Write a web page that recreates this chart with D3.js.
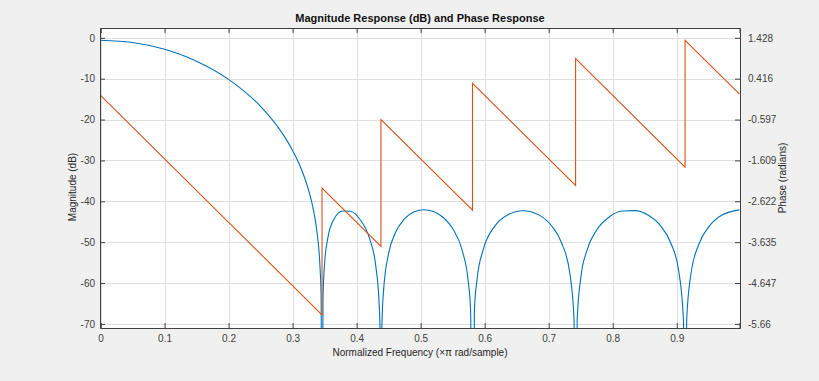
<!DOCTYPE html>
<html>
<head>
<meta charset="utf-8">
<script src="https://cdn.jsdelivr.net/npm/d3@7"></script>
<style>
  body { margin: 0; background: #f0f0f0; }
  svg text { font-family: "Liberation Sans", Arial, Helvetica, sans-serif; }
</style>
</head>
<body>
<div id="chart"></div>
<script>
// values
var magFreq = [0, 0.05, 0.1, 0.15, 0.2, 0.25, 0.28, 0.3, 0.31, 0.32, 0.325, 0.33, 0.335, 0.338, 0.343, 0.3445,
  0.346, 0.3475, 0.35, 0.355, 0.365, 0.378, 0.39, 0.405, 0.42, 0.43, 0.435, 0.4365,
  0.438, 0.4395, 0.442, 0.45, 0.46, 0.475, 0.49, 0.505, 0.52, 0.535, 0.55, 0.565, 0.574, 0.578,
  0.581, 0.584, 0.588, 0.598, 0.615, 0.635, 0.66, 0.685, 0.705, 0.72, 0.733, 0.7395,
  0.742, 0.7445, 0.75, 0.76, 0.775, 0.795, 0.815, 0.835, 0.855, 0.875, 0.89, 0.903, 0.9105,
  0.913, 0.9155, 0.922, 0.935, 0.95, 0.97, 0.998];
var magDb = [-0.6, -1.14, -2.80, -5.71, -10.16, -16.78, -22.47, -27.55, -30.77, -34.78, -37.26, -40.27, -44.20, -47.41, -56.63, -62.65,
  -120, -63.79, -55.27, -49.02, -44.28, -42.36, -42.44, -44.38, -49.03, -55.96, -64.52, -70.54,
  -120, -70.55, -62.03, -52.73, -47.87, -44.26, -42.57, -42.05, -42.48, -43.90, -46.66, -52.06, -59.16, -66.52,
  -120, -66.57, -59.21, -51.69, -46.26, -43.39, -42.32, -43.38, -46.10, -50.14, -57.60, -68.73,
  -120, -68.95, -58.85, -51.89, -47.01, -43.79, -42.39, -42.27, -43.36, -46.06, -49.97, -56.99, -69.03,
  -120, -69.04, -57.91, -50.34, -46.25, -43.43, -42.10];

var phaseFreq = [0, 0.346, 0.346, 0.438, 0.438, 0.581, 0.581, 0.742, 0.742, 0.913, 0.913, 0.998];
var phaseRad = [0, -5.435, -2.293, -3.738, -0.597, -2.843, 0.299, -2.230, 0.912, -1.775, 1.366, 0.031];

var xTicks = [0, 0.1, 0.2, 0.3, 0.4, 0.5, 0.6, 0.7, 0.8, 0.9];
var dbTicks = [0, -10, -20, -30, -40, -50, -60, -70];
var phaseTicks = [1.428, 0.416, -0.597, -1.609, -2.622, -3.635, -4.647, -5.66];

// set the dimensions and margins of the graph
var margin = {top: 28, right: 79, bottom: 53, left: 100},
  width = 819 - margin.left - margin.right,
  height = 381 - margin.top - margin.bottom;

var svg = d3.select("#chart")
  .append("svg")
    .attr("width", 819)
    .attr("height", 381)
    .style("display", "block")

svg.append("rect")
  .attr("width", 819).attr("height", 381)
  .style("fill", "#f0f0f0")

var g = svg.append("g")
  .attr("transform", "translate(" + margin.left + "," + margin.top + ")");

// scales
var x = d3.scaleLinear().domain([0, 0.998]).range([0.5, width - 0.5]);
var y = d3.scaleLinear().domain([-71, 2.4]).range([height, 0]);
// right axis lines up with the left one: 10 dB per 1.01257 rad
var yR = d3.scaleLinear().domain([1.428 - 71 * 0.101257, 1.428 + 2.4 * 0.101257]).range([height, 0]);

g.append("rect")
  .attr("width", width).attr("height", height)
  .style("fill", "white")

// grid
g.selectAll(".vgrid")
  .data(xTicks)
  .enter()
  .append("line")
    .attr("x1", function(d) { return Math.round(x(d)) + 0.5 })
    .attr("x2", function(d) { return Math.round(x(d)) + 0.5 })
    .attr("y1", 0).attr("y2", height)
    .style("stroke", "#dfdfdf")

g.selectAll(".hgrid")
  .data(dbTicks)
  .enter()
  .append("line")
    .attr("y1", function(d) { return Math.round(y(d)) + 0.5 })
    .attr("y2", function(d) { return Math.round(y(d)) + 0.5 })
    .attr("x1", 0).attr("x2", width)
    .style("stroke", "#dfdfdf")

g.append("clipPath").attr("id", "clip")
  .append("rect").attr("width", width).attr("height", height)

// magnitude
var magLine = d3.line()
  .x(function(d, i) { return x(magFreq[i]) })
  .y(function(d) { return y(d) })
  .curve(d3.curveMonotoneX)

g.append("path")
  .attr("clip-path", "url(#clip)")
  .attr("d", magLine(magDb))
  .style("fill", "none")
  .style("stroke", "#0072BD")
  .style("stroke-width", 1.1)

// phase
var phaseLine = d3.line()
  .x(function(d, i) { return x(phaseFreq[i]) })
  .y(function(d) { return yR(d) })

g.append("path")
  .attr("clip-path", "url(#clip)")
  .attr("d", phaseLine(phaseRad))
  .style("fill", "none")
  .style("stroke", "#D95319")
  .style("stroke-width", 1.1)

// axes
var axisColor = "#404040";

var xAxis = g.append("g")
  .attr("transform", "translate(0," + height + ")")
  .call(d3.axisBottom(x).tickValues(xTicks).tickSize(-5).tickPadding(7).tickFormat(function(d) { return String(d) }))

var topAxis = g.append("g")
  .call(d3.axisTop(x).tickValues(xTicks).tickSize(-5).tickFormat(""))

var yAxis = g.append("g")
  .call(d3.axisLeft(y).tickValues(dbTicks).tickSize(-5).tickPadding(5).tickFormat(function(d) { return String(d) }))

var yAxisR = g.append("g")
  .attr("transform", "translate(" + width + ",0)")
  .call(d3.axisRight(yR).tickValues(phaseTicks).tickSize(-5).tickPadding(8).tickFormat(function(d) { return String(d) }))

g.selectAll(".domain").style("stroke", axisColor)
g.selectAll(".tick line").style("stroke", axisColor)
g.selectAll(".tick text")
  .style("fill", "#404040")
  .style("font-size", "10px")
  .style("font-family", "'Liberation Sans', Arial, Helvetica, sans-serif")

// labels
svg.append("text")
  .attr("x", margin.left + width / 2)
  .attr("y", 21.5)
  .attr("text-anchor", "middle")
  .style("font-size", "11px")
  .style("font-weight", "bold")
  .style("fill", "#111")
  .text("Magnitude Response (dB) and Phase Response")

svg.append("text")
  .attr("x", margin.left + width / 2)
  .attr("y", 356)
  .attr("text-anchor", "middle")
  .style("font-size", "10px")
  .style("fill", "#262626")
  .text("Normalized Frequency (\u00d7\u03c0 rad/sample)")

svg.append("text")
  .attr("transform", "translate(75.5,187) rotate(-90)")
  .attr("text-anchor", "middle")
  .style("font-size", "10px")
  .style("fill", "#262626")
  .text("Magnitude (dB)")

svg.append("text")
  .attr("transform", "translate(786,178) rotate(-90)")
  .attr("text-anchor", "middle")
  .style("font-size", "10px")
  .style("fill", "#262626")
  .text("Phase (radians)")
</script>
</body>
</html>
